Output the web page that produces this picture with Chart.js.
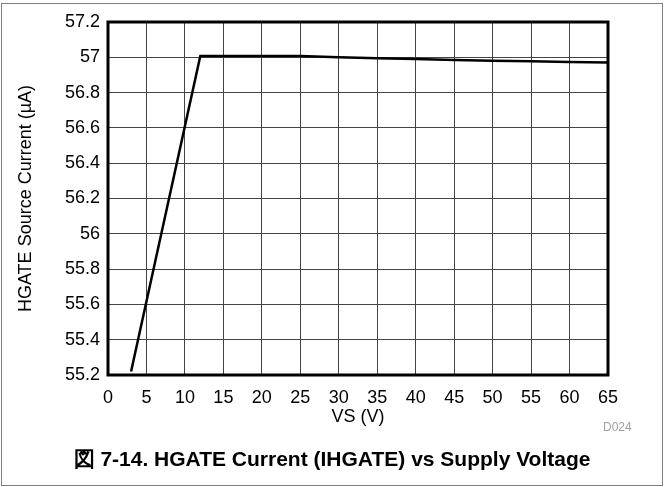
<!DOCTYPE html>
<html>
<head>
<meta charset="utf-8">
<script src="https://cdn.jsdelivr.net/npm/chart.js@4"></script>
<style>
  html, body { margin: 0; padding: 0; background: #fff; }
  #wrap { position: relative; width: 664px; height: 487px; }
  #frame { position: absolute; left: 1px; top: 3px; width: 660px; height: 481px; border: 1px solid #808080; }
  #caption { position: absolute; left: 0; width: 664px; top: 445px; text-align: center;
    font: bold 21px "Liberation Sans", Arial, sans-serif; color: #000; }
  #code { position: absolute; left: 603px; top: 420px; font: 12px "Liberation Sans", Arial, sans-serif; color: #a0a0a0; }
</style>
</head>
<body>
<div id="wrap">
  <canvas id="chart" width="664" height="487"></canvas>
  <div id="frame"></div>
  <div id="code">D024</div>
  <div id="caption">図 7-14. HGATE Current (IHGATE) vs Supply Voltage</div>
</div>
<script>
  const supplyVoltage = [3, 12, 25, 30, 35, 40, 45, 50, 55, 60, 65];
  const sourceCurrent = [55.22, 57.008, 57.007, 57.0, 56.995, 56.99, 56.985, 56.98, 56.977, 56.974, 56.971];
  const xTicks = [0, 5, 10, 15, 20, 25, 30, 35, 40, 45, 50, 55, 60, 65];
  const yTicks = [55.2, 55.4, 55.6, 55.8, 56, 56.2, 56.4, 56.6, 56.8, 57, 57.2];

  const tickFont = { family: "'Liberation Sans', Arial, sans-serif", size: 18 };

  const plotFrame = {
    id: "plotFrame",
    afterDatasetsDraw(chart) {
      const { ctx, chartArea } = chart;
      ctx.save();
      ctx.strokeStyle = "#000";
      ctx.lineWidth = 3;
      ctx.strokeRect(chartArea.left, chartArea.top, chartArea.right - chartArea.left, chartArea.bottom - chartArea.top);
      ctx.restore();
    },
  };

  new Chart(document.getElementById("chart"), {
    type: "line",
    data: {
      datasets: [
        {
          data: supplyVoltage.map((v, i) => ({ x: v, y: sourceCurrent[i] })),
          borderColor: "#000",
          borderWidth: 2.5,
          pointRadius: 0,
          tension: 0,
        },
      ],
    },
    options: {
      responsive: false,
      animation: false,
      layout: { padding: { left: 0, top: 22, right: 56, bottom: 59 } },
      plugins: { legend: { display: false }, tooltip: { enabled: false } },
      scales: {
        x: {
          type: "linear",
          min: xTicks[0],
          max: xTicks[xTicks.length - 1],
          afterBuildTicks: (axis) => { axis.ticks = xTicks.map((v) => ({ value: v })); },
          afterFit: (axis) => { axis.height = 53; },
          grid: { color: "#444", lineWidth: 1, drawTicks: false },
          border: { display: false },
          ticks: { color: "#000", font: tickFont, padding: 12, maxRotation: 0 },
          title: { display: true, text: "VS (V)", color: "#000", font: tickFont, padding: { top: 0, bottom: 0 } },
        },
        y: {
          min: yTicks[0],
          max: yTicks[yTicks.length - 1],
          afterBuildTicks: (axis) => { axis.ticks = yTicks.map((v) => ({ value: v })); },
          afterFit: (axis) => { axis.width = 108; },
          grid: { color: "#444", lineWidth: 1, drawTicks: false },
          border: { display: false },
          ticks: {
            color: "#000",
            font: tickFont,
            padding: 8,
            callback: (v) => String(parseFloat(Number(v).toFixed(1))),
          },
          title: { display: true, text: "HGATE Source Current (µA)", color: "#000", font: tickFont, padding: { top: 15, bottom: 0 } },
        },
      },
    },
    plugins: [plotFrame],
  });
</script>
</body>
</html>
